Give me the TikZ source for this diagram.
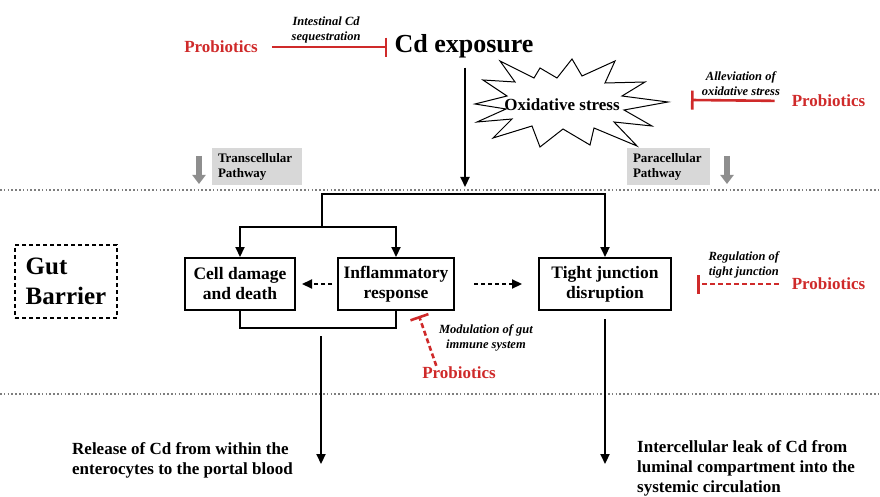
\documentclass[tikz,border=0pt]{standalone}
\usepackage{fontspec}
\setmainfont{Liberation Serif}
\usetikzlibrary{arrows.meta,calc}

\definecolor{probred}{HTML}{CF2A2A}
\definecolor{pathgray}{HTML}{D8D8D8}
\definecolor{arrowgray}{HTML}{8E8E8E}
\definecolor{dotgray}{HTML}{7E7E7E}

\newcommand{\fsz}[2]{\fontsize{#1}{#2}\selectfont}

\begin{document}
\begin{tikzpicture}[x=1pt,y=-1pt,
  box/.style={draw, line width=2pt, minimum height=52pt, align=center,
    inner sep=2pt, font=\bfseries\fsz{17.5}{20}},
  probio/.style={text=probred, font=\bfseries\fsz{17}{20}, inner sep=1pt},
  note/.style={font=\bfseries\itshape\fsz{12.5}{15}, align=center, inner sep=1pt},
  outcome/.style={font=\bfseries\fsz{17}{20}, align=left, inner sep=0pt, anchor=west},
  pathbox/.style={fill=pathgray, minimum height=37pt, inner xsep=6pt, align=left,
    font=\bfseries\fsz{13}{15}},
  conn/.style={line width=2.2pt},
  arr/.style={conn, -{Triangle[length=10pt,width=9pt]}},
  dasharr/.style={arr, dash pattern=on 4pt off 3pt},
  inhibit/.style={draw=probred, line width=2.6pt, -{Bar[width=19pt,line width=2.6pt]}},
  inhibitdash/.style={inhibit, dash pattern=on 5pt off 3pt},
  grayarr/.style={draw=arrowgray, line width=6pt, -{Triangle[length=9pt,width=13pt]}},
  dotline/.style={draw=dotgray, line width=1.5pt, dash pattern=on 1.6pt off 2.2pt},
  burst/.style={draw, line width=1pt, fill=white, line join=miter}
]
\useasboundingbox (0,0) rectangle (880,497);

% barrier boundaries
\draw[dotline] (0,190) -- (880,190);
\draw[dotline] (0,394) -- (880,394);

% exposure and probiotic sequestration
\node[font=\bfseries\fsz{26}{30}, inner sep=1pt, anchor=base] (cd) at (464,53) {Cd exposure};
\node[probio, anchor=base] (prob1) at (221,53) {Probiotics};
\draw[inhibit, shorten <=13pt, shorten >=6pt] (prob1.east) -- (cd.west |- prob1.east)
  node[note, midway, above, yshift=2pt] {Intestinal Cd\\sequestration};

% oxidative stress burst
\draw[burst] (475,104) -- (507,96) -- (483,80) -- (515,82) -- (500,61) -- (534,78)
  -- (540,68) -- (557,78) -- (572,59) -- (582,76) -- (615,61) -- (605,83)
  -- (645,82) -- (622,96) -- (668,102) -- (624,110) -- (652,126) -- (614,122)
  -- (637,146) -- (594,128) -- (590,145) -- (563,129) -- (540,147) -- (532,126)
  -- (493,138) -- (512,119) -- (477,122) -- (506,109) -- cycle;
\node[font=\bfseries\fsz{17}{20}, inner sep=1pt] (ox) at (562,105) {Oxidative stress};

\node[probio] (prob2) at (828.5,101) {Probiotics};
\coordinate (oxbar) at (691,100);
\draw[inhibit, shorten <=16pt] (prob2.west) -- (oxbar)
  node[note, pos=0.5, above, yshift=3pt] {Alleviation of\\oxidative stress};

% pathway markers
\node[pathbox, text width=78pt] (trans) at (257,166.5) {Transcellular\\Pathway};
\node[pathbox, text width=71pt] (para) at (668.5,166.5) {Paracellular\\Pathway};
\coordinate (transarr) at (199,156);
\coordinate (paraarr) at (727,156);
\draw[grayarr] (transarr) -- ++(0,28);
\draw[grayarr] (paraarr) -- ++(0,28);

% cd entering the barrier
\coordinate (cdin) at (465,187);
\draw[arr, shorten <=8pt] (cd.south -| cdin) -- (cdin);

% gut barrier label
\node[draw, line width=2pt, dash pattern=on 4pt off 3pt, minimum width=102pt,
  minimum height=73pt, align=left, font=\bfseries\fsz{25}{30}, inner sep=0pt]
  (gut) at (66,281.5) {Gut\\Barrier};

% barrier events
\node[box, minimum width=110pt] (cell) at (240,284) {Cell damage\\and death};
\node[box, minimum width=116pt] (inf) at (396,284) {Inflammatory\\response};
\node[box, minimum width=132pt] (tj) at (605,284) {Tight junction\\disruption};

\coordinate (top) at (322,194);
\coordinate (fork) at (322,227);
\draw[arr] (fork) -- (top) -| (tj.north);
\draw[arr] (fork) -| (cell.north);
\draw[arr] (fork) -| (inf.north);

\draw[dasharr, shorten <=5pt, shorten >=6pt] (inf.west) -- (cell.east);
\draw[dasharr, shorten <=19pt, shorten >=16pt] (inf.east) -- (tj.west);

% immune modulation
\node[probio] (prob3) at (459,373) {Probiotics};
\coordinate (modtip) at (419,316);
\draw[inhibitdash] ($(prob3.north)!0.6!(prob3.north west)$) -- (modtip);
\node[note] (modnote) at (486,338) {Modulation of gut\\immune system};

% tight junction regulation
\node[probio] (prob4) at (828.5,284) {Probiotics};
\coordinate (tjbar) at (697,284);
\draw[inhibitdash, shorten <=12pt] (prob4.west) -- (tjbar)
  node[note, pos=0.5, above, yshift=4pt] {Regulation of\\tight junction};

% routes out of the barrier
\coordinate (joinb) at (321,328);
\draw[conn] (cell.south) |- (joinb) -| (inf.south);
\coordinate (relstart) at (321,336);
\coordinate (relend) at (321,464);
\draw[arr] (relstart) -- (relend);
\draw[arr, shorten <=8pt] (tj.south) -- (tj.south |- relend);

\node[outcome] (rel) at (72,460) {Release of Cd from within the\\enterocytes to the portal blood};
\node[outcome] (leak) at (637,468) {Intercellular leak of Cd from\\luminal compartment into the\\systemic circulation};
\end{tikzpicture}
\end{document}
